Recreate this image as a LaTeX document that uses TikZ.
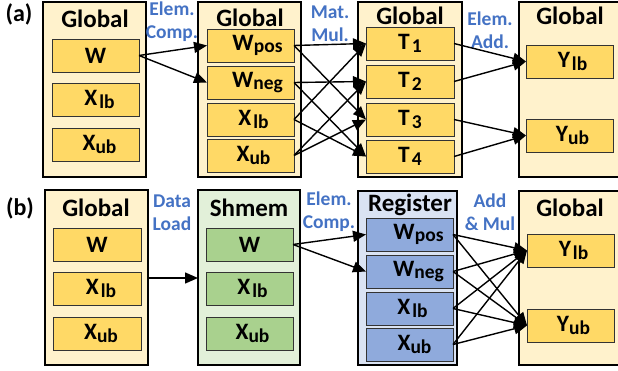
\documentclass[tikz,border=0pt]{standalone}
\usepackage{fontspec}
\setmainfont{Carlito}
\usetikzlibrary{arrows.meta}
\definecolor{gOut}{HTML}{FFF2CC}
\definecolor{gIn}{HTML}{FFD966}
\definecolor{sOut}{HTML}{E2F0D9}
\definecolor{sIn}{HTML}{A9D18E}
\definecolor{rOut}{HTML}{DAE3F3}
\definecolor{rIn}{HTML}{8FAADC}
\definecolor{lblue}{HTML}{4472C4}
\newcommand{\sbx}[1]{\raisebox{-2.5pt}{\fontsize{19.5}{19.5}\selectfont #1}}
\newcommand{\lsh}[1]{\hspace*{#1pt}}
\newcommand{\gp}{\kern2pt}
\begin{document}
\begin{tikzpicture}[x=1pt,y=-1pt,
  font=\bfseries\fontsize{23.5}{23.5}\selectfont,
  obox/.style={draw=black,line width=2.2pt,anchor=north west,inner sep=0pt,outer sep=0pt},
  ibox/.style={draw=black!80,line width=0.9pt,anchor=north west,inner sep=0pt,outer sep=0pt,minimum width=87pt,minimum height=33pt},
  ttl/.style={font=\bfseries\fontsize{25}{25}\selectfont,inner sep=0pt},
  pnl/.style={font=\bfseries\fontsize{24}{24}\selectfont,inner sep=0pt},
  op/.style={font=\bfseries\fontsize{19.5}{23}\selectfont,text=lblue,align=center,inner sep=0pt},
  arr/.style={line width=1.4pt,-{Triangle[length=13pt,width=11pt]}}
]
\useasboundingbox (0,0) rectangle (618,371);
% ---------- (a) ----------
\node[pnl] (pa) at (19,14) {(a)};
\node[obox,fill=gOut,minimum width=103pt,minimum height=175pt] (a1) at (43,2) {};
\node[obox,fill=gOut,minimum width=103pt,minimum height=175pt] (a2) at (198,2) {};
\node[obox,fill=gOut,minimum width=104pt,minimum height=175pt] (a3) at (358,2) {};
\node[obox,fill=gOut,minimum width=110pt,minimum height=175pt] (a4) at (519,2) {};
\node[ttl] (ta1) at (95,19) {Global};
\node[ttl] (ta2) at (250,18) {Global};
\node[ttl] (ta3) at (410,16) {Global};
\node[ttl] (ta4) at (570,16) {Global};
% column 1
\node[ibox,fill=gIn] (aW) at (52,39) {W};
\node[ibox,fill=gIn] (aXl) at (52,83) {\lsh{8}X\gp\sbx{lb}};
\node[ibox,fill=gIn] (aXu) at (52,128) {\lsh{8}X\sbx{ub}};
% column 2
\node[ibox,fill=gIn] (bWp) at (207,29) {\lsh{14}W\sbx{pos}};
\node[ibox,fill=gIn] (bWn) at (207,66) {\lsh{14}W\sbx{neg}};
\node[ibox,fill=gIn] (bXl) at (207,103) {\lsh{6}X\gp\sbx{lb}};
\node[ibox,fill=gIn] (bXu) at (207,139) {\lsh{6}X\sbx{ub}};
% column 3
\node[ibox,fill=gIn,minimum width=88pt] (T1) at (366,27) {T\gp\sbx{1}};
\node[ibox,fill=gIn,minimum width=88pt] (T2) at (366,65) {T\gp\sbx{2}};
\node[ibox,fill=gIn,minimum width=88pt] (T3) at (366,103) {T\gp\sbx{3}};
\node[ibox,fill=gIn,minimum width=88pt] (T4) at (366,140) {T\gp\sbx{4}};
% column 4
\node[ibox,fill=gIn] (aYl) at (526,45) {\lsh{6}Y\gp\sbx{lb}};
\node[ibox,fill=gIn] (aYu) at (526,119) {\lsh{6}Y\sbx{ub}};
% labels
\node[op] (o1) at (172,22) {Elem.\\Comp.};
\node[op] (o2) at (330,24) {Mat.\\Mul.};
\node[op] (o3) at (490,30) {Elem.\\Add.};
% arrows
\draw[arr] (aW.east) -- (bWp.west);
\draw[arr] (aW.east) -- (bWn.west);
\draw[arr] (bWp.east) -- (T1.west);
\draw[arr] (bWp.east) -- (T3.west);
\draw[arr] (bWn.east) -- (T2.west);
\draw[arr] (bWn.east) -- (T4.west);
\draw[arr] (bXl.east) -- (T1.west);
\draw[arr] (bXl.east) -- (T4.west);
\draw[arr] (bXu.east) -- (T2.west);
\draw[arr] (bXu.east) -- (T3.west);
\draw[arr] (T1.east) -- (aYl.west);
\draw[arr] (T2.east) -- (aYl.west);
\draw[arr] (T3.east) -- (aYu.west);
\draw[arr] (T4.east) -- (aYu.west);
% ---------- (b) ----------
\node[pnl] (pb) at (20,208) {(b)};
\node[obox,fill=gOut,minimum width=103pt,minimum height=175pt] (b1) at (45,190) {};
\node[obox,fill=sOut,minimum width=102pt,minimum height=175pt] (b2) at (198,190) {};
\node[obox,fill=rOut,minimum width=99pt,minimum height=174pt] (b3) at (358,191) {};
\node[obox,fill=gOut,minimum width=110pt,minimum height=174pt] (b4) at (519,191) {};
\node[ttl] (tb1) at (96,208) {Global};
\node[ttl] (tb2) at (249,208) {Shmem};
\node[ttl] (tb3) at (410,205) {Register};
\node[ttl] (tb4) at (570,208) {Global};
% column 1
\node[ibox,fill=gIn,minimum width=88pt] (cW) at (53,228) {W};
\node[ibox,fill=gIn,minimum width=88pt] (cXl) at (53,272) {\lsh{8}X\gp\sbx{lb}};
\node[ibox,fill=gIn,minimum width=88pt] (cXu) at (53,317) {\lsh{8}X\sbx{ub}};
% column 2
\node[ibox,fill=sIn] (sW) at (206,228) {W};
\node[ibox,fill=sIn] (sXl) at (206,272) {\lsh{6}X\gp\sbx{lb}};
\node[ibox,fill=sIn] (sXu) at (206,317) {\lsh{6}X\sbx{ub}};
% column 3
\node[ibox,fill=rIn] (rWp) at (366,218) {\lsh{18}W\sbx{pos}};
\node[ibox,fill=rIn] (rWn) at (366,255) {\lsh{18}W\sbx{neg}};
\node[ibox,fill=rIn] (rXl) at (366,292) {\lsh{6}X\gp\sbx{lb}};
\node[ibox,fill=rIn] (rXu) at (366,328) {\lsh{10}X\sbx{ub}};
% column 4
\node[ibox,fill=gIn] (bYl) at (527,234) {\lsh{6}Y\gp\sbx{lb}};
\node[ibox,fill=gIn] (bYu) at (527,309) {\lsh{6}Y\sbx{ub}};
% labels
\node[op] (o4) at (172,213) {Data\\Load};
\node[op] (o5) at (329,212) {Elem.\\Comp.};
\node[op] (o6) at (490,212) {Add\\\& Mul};
% arrows
\coordinate (bs) at (b1.east |- 0,278);
\coordinate (be) at (b2.west |- 0,278);
\draw[arr] (bs) -- (be);
\draw[arr] (sW.east) -- (rWp.west);
\draw[arr] (sW.east) -- (rWn.west);
\foreach \s in {rWp,rWn,rXl,rXu}{
  \draw[arr] (\s.east) -- (bYl.west);
  \draw[arr] (\s.east) -- (bYu.west);
}
\end{tikzpicture}
\end{document}
